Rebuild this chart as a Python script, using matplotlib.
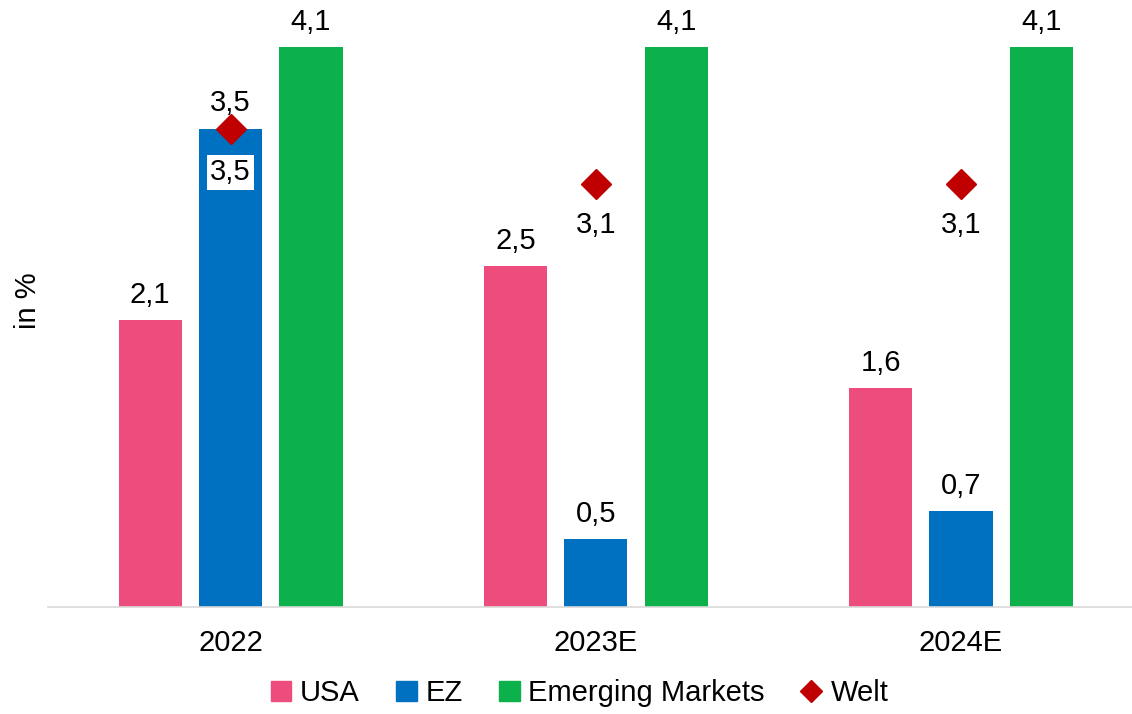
import numpy as np
import matplotlib.pyplot as plt
from matplotlib.lines import Line2D
from matplotlib.patches import Patch

plt.rcParams["font.family"] = ["Liberation Sans", "DejaVu Sans"]

years = ["2022", "2023E", "2024E"]
usa = [2.1, 2.5, 1.6]
ez = [3.5, 0.5, 0.7]
em = [4.1, 4.1, 4.1]
welt = [3.5, 3.1, 3.1]

c_usa = "#EC4D7C"
c_ez = "#0070C0"
c_em = "#0DB14B"
c_welt = "#C00000"

fs = 21


def fmt(v):
    return f"{v:.1f}".replace(".", ",")


fig = plt.figure(figsize=(11.32, 7.14), dpi=100)
ax = fig.add_axes([48 / 1132, 0.150, 1 - 48 / 1132, 0.784])

x = np.arange(len(years))
w = 0.173
off = 0.22
series = [(usa, c_usa, -off), (ez, c_ez, 0), (em, c_em, off)]
for vals, col, dx in series:
    bars = ax.bar(x + dx, vals, width=w, color=col, zorder=2)
    for i, (b, v) in enumerate(zip(bars, vals)):
        cx = b.get_x() + b.get_width() / 2
        if col == c_ez and i == 0:
            # label sits inside the bar on a white box
            ax.annotate(fmt(v), (cx, v), xytext=(0, -31), textcoords="offset points",
                        ha="center", va="center", fontsize=fs, zorder=5,
                        bbox=dict(boxstyle="square,pad=0.12", fc="white", ec="none"))
        else:
            ax.annotate(fmt(v), (cx, v), xytext=(0, 18), textcoords="offset points",
                        ha="center", va="center", fontsize=fs, annotation_clip=False)

ax.plot(x, welt, linestyle="none", marker="D", ms=15, color=c_welt, zorder=4, clip_on=False)
for i, v in enumerate(welt):
    dy = 19 if i == 0 else -30
    ax.annotate(fmt(v), (x[i], v), xytext=(0, dy), textcoords="offset points",
                ha="center", va="center", fontsize=fs, annotation_clip=False)

ax.set_ylim(0, 4.1)
ax.set_xlim(-0.5, 2.5 - 11.5 / 365)
ax.set_xticks(x)
ax.set_xticklabels(years, fontsize=fs)
ax.tick_params(axis="x", length=0, pad=16)
ax.set_yticks([])
fig.text(28 / 1132, 1 - 301 / 714, "in %", rotation=90, ha="center", va="center", fontsize=fs)
for s in ["top", "right", "left"]:
    ax.spines[s].set_visible(False)
ax.spines["bottom"].set_color("#d9d9d9")
ax.spines["bottom"].set_linewidth(1.2)

handles = [Patch(color=c_usa, label="USA"), Patch(color=c_ez, label="EZ"),
           Patch(color=c_em, label="Emerging Markets"),
           Line2D([], [], linestyle="none", marker="D", ms=11, color=c_welt, label="Welt")]
fig.legend(handles=handles, loc="center", bbox_to_anchor=(0.512, 0.029), ncol=4,
           frameon=False, fontsize=fs, handlelength=0.7, handleheight=0.7,
           handletextpad=0.3, columnspacing=1.25)

fig.savefig("out.png", dpi=100)
